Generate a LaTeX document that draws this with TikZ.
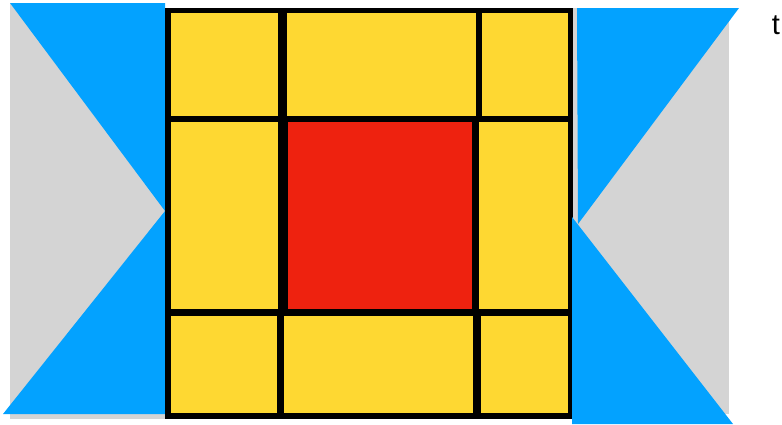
\documentclass[tikz,border=0pt]{standalone}
\usepackage{fontspec}
\setmainfont{Liberation Sans}
\usepackage{tikz}
\usetikzlibrary{positioning}
\definecolor{QuiltBlue}{RGB}{3,162,255}
\definecolor{QuiltGrey}{RGB}{212,212,212}
\definecolor{QuiltGold}{RGB}{254,216,50}
\definecolor{QuiltRed}{RGB}{238,34,15}
\begin{document}
\begin{tikzpicture}[x=1pt,y=-1pt, c/.style={draw=black,line width=5.5pt,fill=QuiltGold,inner sep=0pt,outer sep=0pt}, core/.style={c,fill=QuiltRed}]
\useasboundingbox (0,0) rectangle (782,424);
% left wing
\fill[QuiltGrey] (10,3) rectangle (165,419);
\fill[QuiltBlue] (10,3) -- (165,3) -- (165,211) -- cycle;
\fill[QuiltBlue] (165,211) -- (165,414) -- (3,414) -- cycle;
% block
\node[c,minimum width=113pt,minimum height=108.5pt] (tl) at (224.5,64.75) {};
\node[c,minimum width=195pt,minimum height=108.5pt] (tm) at (381.5,64.75) {};
\node[c,minimum width=92pt,minimum height=108.5pt] (tr) at (525,64.75) {};
\node[c,minimum width=113pt,minimum height=193pt] (ml) at (224.5,215.5) {};
\node[core,minimum width=190pt,minimum height=193pt] (mm) at (380,215.5) {};
\node[c,minimum width=95pt,minimum height=193pt] (mr) at (523.5,215.5) {};
\node[c,minimum width=112pt,minimum height=103pt] (bl) at (224,364.5) {};
\node[c,minimum width=195pt,minimum height=103pt] (bm) at (378.5,364.5) {};
\node[c,minimum width=93pt,minimum height=103pt] (br) at (524.5,364.5) {};
% right wing
\fill[QuiltGrey] (573,8) rectangle (729,414);
\fill[QuiltBlue] (577,8) -- (739,8) -- (578,224) -- cycle;
\fill[QuiltBlue] (572,217) -- (572,424) -- (733,424) -- cycle;
\node[font=\fontsize{29}{34}\selectfont] (lbl) at (776,25) {t};
\end{tikzpicture}
\end{document}
